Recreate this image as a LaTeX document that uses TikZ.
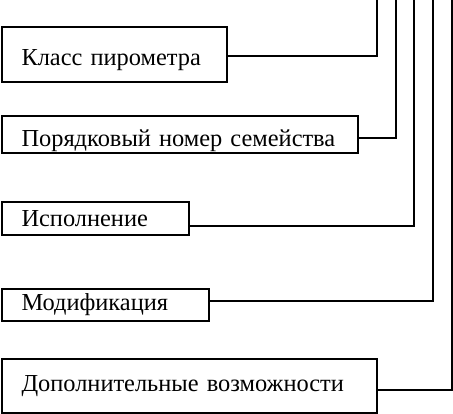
\documentclass[tikz,border=0pt]{standalone}
\usepackage{fontspec}
\setmainfont{Liberation Serif}
\tikzset{
	box/.style={draw, line width=2pt, anchor=north west, inner xsep=19.5pt, inner ysep=0pt,
		align=left, font=\fontsize{24.4}{28}\selectfont},
	link/.style={line width=2pt}
}
\begin{document}
\begin{tikzpicture}[x=1pt, y=-1pt]
				\useasboundingbox (0,0) rectangle (453,413);

				\node [box, text width=186pt, minimum height=55pt, text height=27pt] (klass) at (1,26) {Класс пирометра};
				\node [box, text width=317pt, minimum height=37pt, text height=30pt] (nomer) at (1,115) {Порядковый номер семейства};
				\node [box, text width=148pt, minimum height=33pt] (isp) at (1,201) {Исполнение};
				\node [box, text width=168pt, minimum height=32pt] (mod) at (1,288) {Модификация};
				\node [box, text width=336pt, minimum height=54pt] (dop) at (1,358) {Дополнительные возможности};

				\coordinate (top1) at (377,0);
				\coordinate (top2) at (396,0);
				\coordinate (top3) at (414,0);
				\coordinate (top4) at (433,0);
				\coordinate (top5) at (452,0);

				\draw [link] ([yshift=-1.5pt]klass.east) -| (top1);
				\draw [link] ([yshift=-3.5pt]nomer.east) -| (top2);
				\draw [link] ([yshift=-7.5pt]isp.east) -| (top3);
				\draw [link] ([yshift=4pt]mod.east) -| (top4);
				\draw [link] ([yshift=-4pt]dop.east) -| (top5);

			\end{tikzpicture}
\end{document}
